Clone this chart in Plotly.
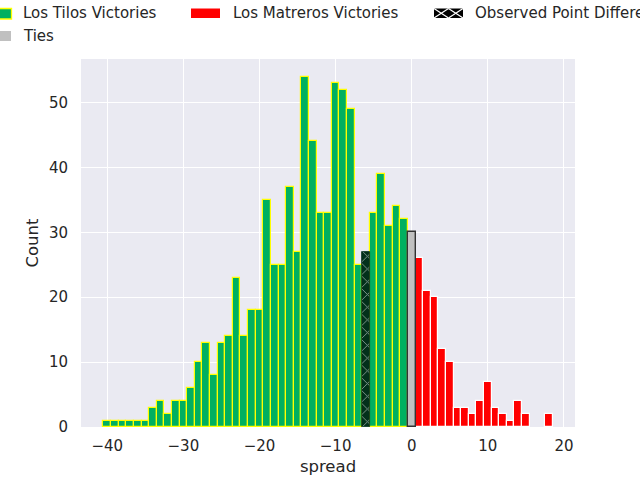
import plotly.graph_objects as go

# Bin centres (point spread) and counts
tilos_spread = [-40, -39, -38, -37, -36, -35, -34, -33, -32, -31, -30, -29, -28, -27,
                -26, -25, -24, -23, -22, -21, -20, -19, -18, -17, -16, -15, -14, -13,
                -12, -11, -10, -9, -8, -7, -5, -4, -3, -2, -1]
tilos_count = [1, 1, 1, 1, 1, 1, 3, 4, 2, 4, 4, 6, 10, 13,
               8, 13, 14, 23, 14, 18, 18, 35, 25, 25, 37, 27, 54, 44,
               33, 33, 53, 52, 49, 25, 33, 39, 31, 34, 32]

matreros_spread = [1, 2, 3, 4, 5, 6, 7, 8, 9, 10, 11, 12, 13, 14, 15, 18]
matreros_count = [26, 21, 20, 12, 10, 3, 3, 2, 4, 7, 3, 2, 1, 4, 2, 2]

ties_spread = [0]
ties_count = [30]

observed_spread = [-6]
observed_count = [27]

x_ticks = [-40, -30, -20, -10, 0, 10, 20]
y_ticks = [0, 10, 20, 30, 40, 50]

GREEN = "#00b060"
TEXT = "#262626"
FONT = "DejaVu Sans"

# plot area in pixels
L, R, T, B = 81, 575, 59, 427


def px_x(p):
    return (p - L) / (R - L)


def px_y(p):
    return (B - p) / (B - T)


fig = go.Figure()

fig.add_trace(go.Bar(
    x=tilos_spread, y=tilos_count, width=1,
    marker=dict(color=GREEN, line=dict(color="#ffff00", width=1.2)),
    name="Los Tilos Victories",
))
fig.add_trace(go.Bar(
    x=matreros_spread, y=matreros_count, width=1,
    marker=dict(color="#ff0000", line=dict(color="white", width=1.2)),
    name="Los Matreros Victories",
))
fig.add_trace(go.Bar(
    x=observed_spread, y=observed_count, width=1,
    marker=dict(color="#03301b", line=dict(color="#03301b", width=0.8),
                pattern=dict(shape="x", fgcolor="white", bgcolor="#03301b",
                             size=9, solidity=0.2)),
    name="Observed Point Difference",
))
fig.add_trace(go.Bar(
    x=ties_spread, y=ties_count, width=1,
    marker=dict(color="#c0c0c0", line=dict(color="#333333", width=1.4)),
    name="Ties",
))

# legend drawn by hand so the patches match the wide matplotlib style
shapes = []
annotations = []


def patch(x0, x1, y0, y1, fill, line=None):
    shapes.append(dict(
        type="rect", xref="paper", yref="paper",
        x0=px_x(x0), x1=px_x(x1), y0=px_y(y1), y1=px_y(y0),
        fillcolor=fill,
        line=dict(color=line or fill, width=1.3 if line else 0),
        layer="above",
    ))


def label(x, y, text):
    annotations.append(dict(
        xref="paper", yref="paper", x=px_x(x), y=px_y(y),
        text=text, showarrow=False, xanchor="left", yanchor="middle",
        font=dict(family=FONT, size=15, color=TEXT),
    ))


patch(-18.5, 11.5, 8.5, 19, GREEN, "#ffff00")
label(21, 13, "Los Tilos Victories")
patch(191, 220, 8.5, 18, "#ff0000")
label(231, 13, "Los Matreros Victories")
patch(434, 463, 8.5, 18, "black")
for a, b in [(434, 448.5), (448.5, 463)]:
    for ya, yb in [(8.5, 18), (18, 8.5)]:
        shapes.append(dict(type="line", xref="paper", yref="paper",
                           x0=px_x(a), x1=px_x(b), y0=px_y(ya), y1=px_y(yb),
                           line=dict(color="white", width=1.2), layer="above"))
label(473, 13, "Observed Point Difference")
patch(-18.5, 11, 31, 41, "#c0c0c0")
label(21, 36, "Ties")

fig.update_layout(
    width=640, height=480,
    margin=dict(l=L, r=640 - R, t=T, b=480 - B, autoexpand=False),
    paper_bgcolor="white", plot_bgcolor="#eaeaf2",
    barmode="overlay", bargap=0,
    showlegend=False,
    font=dict(family=FONT, color=TEXT, size=15),
    shapes=shapes, annotations=annotations,
)
fig.update_xaxes(
    range=[-43.45, 21.45], tickvals=x_ticks,
    showgrid=True, gridcolor="white", gridwidth=1.3, zeroline=False,
    ticks="outside", ticklen=5, tickcolor="rgba(0,0,0,0)",
    title=dict(text="spread", font=dict(size=16.5), standoff=6),
    automargin=False,
)
fig.update_yaxes(
    range=[0, 56.7], tickvals=y_ticks,
    showgrid=True, gridcolor="white", gridwidth=1.3, zeroline=False,
    ticks="outside", ticklen=9, tickcolor="rgba(0,0,0,0)",
    title=dict(text="Count", font=dict(size=16.5), standoff=6),
    automargin=False,
)

# drop the browser's default body margin so the figure sits at the corner
fig.write_html("out.html", config={"displayModeBar": False},
               post_script="document.body.style.margin = '0';")
